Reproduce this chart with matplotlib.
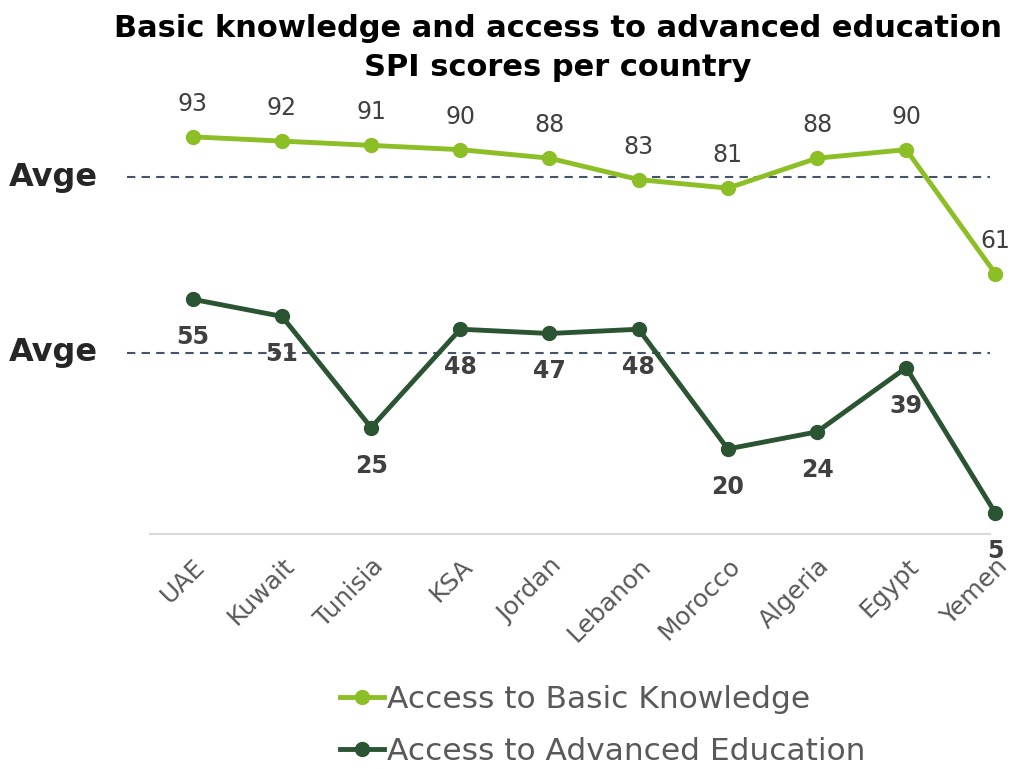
import matplotlib.pyplot as plt
import numpy as np

countries = ["UAE", "Kuwait", "Tunisia", "KSA", "Jordan", "Lebanon",
             "Morocco", "Algeria", "Egypt", "Yemen"]
basic = [93, 92, 91, 90, 88, 83, 81, 88, 90, 61]
advanced = [55, 51, 25, 48, 47, 48, 20, 24, 39, 5]
avg_basic = 83.6
avg_advanced = 42.5

light_green = "#8cbf26"
dark_green = "#2b5532"
text_gray = "#595959"

fig = plt.figure(figsize=(10.23, 7.69), dpi=100)
ax = fig.add_axes([0.1466, 0.305, 0.8264, 0.556])
x = np.arange(len(countries))

ax.plot(x, basic, color=light_green, lw=3.5, marker="o", ms=10,
        label="Access to Basic Knowledge", clip_on=False, zorder=3)
ax.plot(x, advanced, color=dark_green, lw=3.5, marker="o", ms=10,
        label="Access to Advanced Education", clip_on=False, zorder=3)

# average reference lines
for yv in (avg_basic, avg_advanced):
    ax.axhline(yv, xmin=-0.027, xmax=0.994, color="#44546a", lw=1.5,
               ls=(0, (4, 3)), clip_on=False, zorder=1)
    ax.annotate("Avge", xy=(0, yv), xycoords=("figure fraction", "data"),
                xytext=(9, 0), textcoords="offset pixels",
                ha="left", va="center", fontsize=23, fontweight="bold",
                color="#262626", annotation_clip=False)

# data labels
for xi, v in zip(x, basic):
    ax.annotate(str(v), (xi, v), xytext=(0, 21), textcoords="offset pixels",
                ha="center", va="bottom", fontsize=17, color="#404040")
for xi, v in zip(x, advanced):
    ax.annotate(str(v), (xi, v), xytext=(0, -26), textcoords="offset pixels",
                ha="center", va="top", fontsize=17, fontweight="bold",
                color="#404040")

ax.set_xlim(-0.48, 9.0)
ax.set_ylim(0, 100)
ax.set_xticks(x)
ax.set_xticklabels(countries, rotation=45, ha="right", rotation_mode="anchor",
                   fontsize=18, color=text_gray)
ax.tick_params(axis="x", length=0, pad=14)
ax.set_yticks([])
for s in ("top", "right", "left"):
    ax.spines[s].set_visible(False)
ax.spines["bottom"].set_color("#d9d9d9")
ax.spines["bottom"].set_linewidth(1.5)
ax.spines["bottom"].set_bounds(-0.48, 8.94)

fig.text(0.545, 0.982, "Basic knowledge and access to advanced education\nSPI scores per country",
         ha="center", va="top", fontsize=22, fontweight="bold", linespacing=1.42)

leg = fig.legend(loc="lower left", bbox_to_anchor=(0.305, -0.033), frameon=False,
                 fontsize=22.5, handlelength=1.4, handletextpad=0.1,
                 labelspacing=0.75)
for t in leg.get_texts():
    t.set_color(text_gray)

fig.savefig("out.png", dpi=100)
